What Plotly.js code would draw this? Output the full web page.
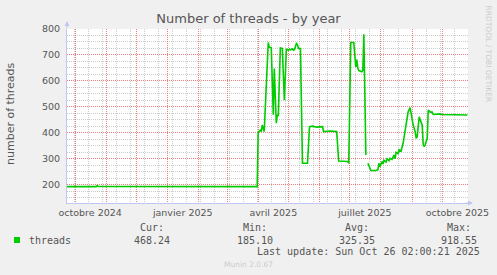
<!DOCTYPE html>
<html><head><meta charset="utf-8">
<script src="https://cdn.plot.ly/plotly-3.0.1.min.js"></script>
<style>html,body{margin:0;padding:0;background:#f0f0f0;}#chart{width:497px;height:275px;}</style>
</head><body><div id="chart"></div>
<script>
// ---- data ----
const dates = [
 '2024-09-23','2024-10-22','2024-10-23','2024-10-24','2025-03-31',
 '2025-04-01','2025-04-03','2025-04-04','2025-04-05','2025-04-07',
 '2025-04-11','2025-04-12','2025-04-14','2025-04-16','2025-04-17',
 '2025-04-19','2025-04-20','2025-04-21','2025-04-23','2025-04-25',
 '2025-04-27','2025-04-29','2025-05-01','2025-05-02','2025-05-03',
 '2025-05-05','2025-05-06','2025-05-07','2025-05-09','2025-05-10',
 '2025-05-11','2025-05-13','2025-05-15','2025-05-20','2025-05-22',
 '2025-05-25','2025-05-29','2025-06-02','2025-06-04','2025-06-05',
 '2025-06-12','2025-06-18','2025-06-20','2025-06-29','2025-06-30',
 '2025-07-02','2025-07-05','2025-07-07','2025-07-08','2025-07-09',
 '2025-07-10','2025-07-13','2025-07-14','2025-07-15','2025-07-17',
 '2025-07-18','2025-07-19','2025-07-21','2025-07-22','2025-07-27',
 '2025-07-29','2025-07-30','2025-07-31','2025-08-02','2025-08-03',
 '2025-08-04','2025-08-06','2025-08-07','2025-08-09','2025-08-10',
 '2025-08-12','2025-08-14','2025-08-15','2025-08-16','2025-08-18',
 '2025-08-19','2025-08-21','2025-08-23','2025-08-28','2025-08-30',
 '2025-09-01','2025-09-02','2025-09-04','2025-09-05','2025-09-06',
 '2025-09-08','2025-09-09','2025-09-11','2025-09-12','2025-09-13',
 '2025-09-14','2025-09-16','2025-09-17','2025-09-19','2025-09-21',
 '2025-09-22','2025-09-29','2025-09-30','2025-10-26'
];
const threads = [
 193,193,197,194,193,
 402,410,405,430,405,
 748,730,728,470,648,
 437,470,465,727,725,
 526,723,718,722,720,
 724,718,720,744,740,
 725,725,283,283,424,
 426,422,425,424,405,
 407,405,292,290,283,
 748,748,654,682,648,
 640,635,640,780,315,
 null,283,262,255,255,
 258,283,270,290,280,
 295,288,300,293,302,
 298,315,300,325,320,
 335,330,360,481,497,
 456,430,405,379,385,
 462,450,430,354,347,
 355,379,488,480,480,
 471,473,471,469
];
const monthLabelDates = ['2024-10-16','2025-01-16','2025-04-16','2025-07-16','2025-10-16'];
const monthLabels = ['octobre 2024','janvier 2025','avril 2025','juillet 2025','octobre 2025'];
const seriesName = 'threads';
const statNames = ['Cur:','Min:','Avg:','Max:'];
const statValues = ['468.24','185.10','325.35','918.55'];
const lastUpdate = 'Last update: Sun Oct 26 02:00:21 2025';

// ---- layout geometry (pixels) ----
const L = 67, R = 468, T = 29, B = 203;
const W = R - L, H = B - T;
const px = x => (x - L) / W, py = y => (B - y) / H;
const xRange = ['2024-09-23', '2025-10-26 12:00'];
const txt = '#555555';
const majorGrid = 'rgba(235,80,80,0.75)';
const minorGrid = 'rgba(160,160,160,0.55)';
const axisCol = '#c0c6f0';

const traces = [
 {x: dates, y: threads, type: 'scatter', mode: 'lines', name: seriesName,
  line: {color: '#00cc00', width: 1.6}, connectgaps: false, hoverinfo: 'skip'},
 {x: dates, y: threads, type: 'scatter', mode: 'lines', xaxis: 'x2',
  line: {color: 'rgba(0,0,0,0)', width: 0}, hoverinfo: 'skip', showlegend: false}
];

const statX = [151.7, 254.6, 357.1, 458.5];
const ann = [];
statNames.forEach((s, i) => {
  ann.push({text: s, x: px(statX[i]), y: py(227.3), xref: 'paper', yref: 'paper', showarrow: false,
    xanchor: 'center', yanchor: 'middle', font: {family: 'DejaVu Sans Mono', size: 10, color: txt}});
  ann.push({text: statValues[i], x: px(statX[i]), y: py(240), xref: 'paper', yref: 'paper', showarrow: false,
    xanchor: 'center', yanchor: 'middle', font: {family: 'DejaVu Sans Mono', size: 10, color: txt}});
});
ann.push({text: seriesName, x: px(26.7), y: py(240), xref: 'paper', yref: 'paper', showarrow: false,
  xanchor: 'left', yanchor: 'middle', font: {family: 'DejaVu Sans Mono', size: 10, color: txt}});
ann.push({text: lastUpdate, x: px(482.3), y: py(251.7), xref: 'paper', yref: 'paper', showarrow: false,
  xanchor: 'right', yanchor: 'middle', font: {family: 'DejaVu Sans Mono', size: 10, color: txt}});
ann.push({text: 'Munin 2.0.67', x: px(248), y: py(264), xref: 'paper', yref: 'paper', showarrow: false,
  xanchor: 'center', yanchor: 'middle', font: {family: 'DejaVu Sans', size: 7.5, color: '#cccccc'}});
ann.push({text: 'RRDTOOL / TOBI OETIKER', x: px(488), y: py(53.5), xref: 'paper', yref: 'paper', showarrow: false,
  textangle: 90, xanchor: 'center', yanchor: 'middle', font: {family: 'DejaVu Sans', size: 7.5, color: '#cccccc'}});
ann.push({text: 'number of threads', x: px(10), y: py(114), xref: 'paper', yref: 'paper', showarrow: false,
  textangle: -90, xanchor: 'center', yanchor: 'middle', font: {family: 'DejaVu Sans', size: 11, color: txt}});
// axis arrows
ann.push({text: '', x: 0, y: py(21), xref: 'paper', yref: 'paper', showarrow: true, ax: 0, ay: 9,
  arrowhead: 2, arrowsize: 1, arrowwidth: 1, arrowcolor: axisCol});
ann.push({text: '', x: px(473), y: 0, xref: 'paper', yref: 'paper', showarrow: true, ax: -9, ay: 0,
  arrowhead: 2, arrowsize: 1, arrowwidth: 1, arrowcolor: axisCol});

const shapes = [{type: 'rect', xref: 'paper', yref: 'paper', x0: px(14), x1: px(20), y0: py(243), y1: py(237),
  fillcolor: '#00cc00', line: {width: 0}}];

const layout = {
  width: 497, height: 275,
  margin: {l: L, r: 497 - R, t: T, b: 275 - B, pad: 0},
  paper_bgcolor: '#f0f0f0', plot_bgcolor: '#ffffff',
  showlegend: false,
  title: {text: 'Number of threads - by year', font: {family: 'DejaVu Sans', size: 13, color: txt},
    x: 0.5, xref: 'container', xanchor: 'center', y: 1 - 18.5 / 275, yref: 'container', yanchor: 'middle'},
  xaxis: {type: 'date', range: xRange, dtick: 'M1', tick0: '2024-10-01', showticklabels: false, ticks: '',
    showgrid: true, gridcolor: majorGrid, griddash: '1px,1px', gridwidth: 1,
    minor: {dtick: 14 * 86400000, tick0: '2024-09-30', showgrid: true, gridcolor: minorGrid, griddash: '1px,1px', gridwidth: 1},
    showline: true, linecolor: axisCol, linewidth: 1, zeroline: false, fixedrange: true, layer: 'below traces'},
  xaxis2: {type: 'date', overlaying: 'x', anchor: 'y', side: 'bottom', range: xRange, tickmode: 'array',
    tickvals: monthLabelDates, ticktext: monthLabels, showgrid: false, ticks: '', zeroline: false, showline: false,
    tickfont: {family: 'DejaVu Sans', size: 9.5, color: txt}, ticklabelstandoff: 2},
  yaxis: {range: [130, 800], dtick: 100, tick0: 0, ticks: '', showgrid: true, gridcolor: majorGrid,
    griddash: '1px,1px', gridwidth: 1,
    minor: {dtick: 25, tick0: 0, showgrid: true, gridcolor: minorGrid, griddash: '1px,1px', gridwidth: 1},
    showline: true, linecolor: axisCol, linewidth: 1, zeroline: false,
    tickfont: {family: 'DejaVu Sans', size: 9.5, color: txt}, ticklabelstandoff: 4},
  annotations: ann,
  shapes: shapes
};
Plotly.newPlot('chart', traces, layout, {staticPlot: true, displayModeBar: false});
</script></body></html>
